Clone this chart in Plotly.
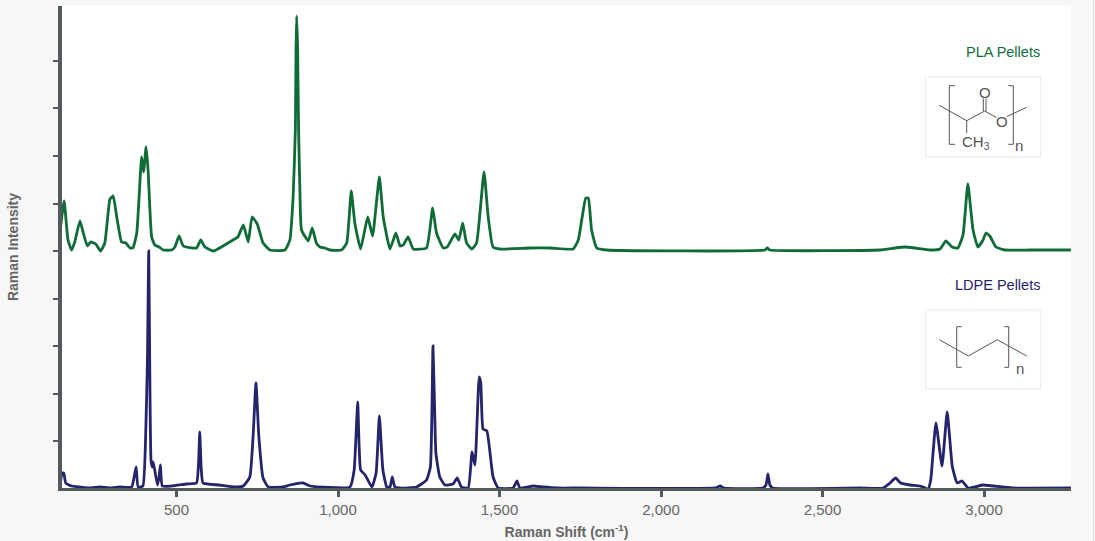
import plotly.graph_objects as go

pla_shift = [139,152,164,175,185,201,209,224,234,250,265,278,294,304,315,330,343,356,365,377,392,398,406,412,423,433,446,459,485,495,508,521,562,575,588,614,675,690,707,722,734,750,768,789,836,851,861,868,870,872,875,878,882,887,908,920,933,944,959,975,1011,1027,1041,1052,1070,1092,1107,1128,1140,1161,1179,1192,1202,1217,1233,1274,1293,1305,1326,1338,1362,1374,1386,1398,1414,1429,1452,1465,1480,1501,1594,1656,1728,1744,1756,1767,1775,1785,1801,1832,2322,2329,2337,2678,2724,2755,2786,2833,2864,2882,2901,2919,2935,2950,2966,2981,2997,3006,3018,3037,3065,3142,3269]
pla_intensity = [257,289,250,240,248,269,260,244,248,246,239,247,291,294,273,248,247,242,242,257,333,318,343,320,253,245,243,240,240,243,254,244,242,250,243,239,250,253,265,248,273,266,247,240,240,250,293,360,440,474,440,360,300,260,249,262,247,243,242,240,240,247,299,267,241,273,254,313,273,241,257,244,245,253,241,242,282,257,242,243,256,250,267,247,241,247,318,273,243,241,242,242,241,250,273,292,292,260,242,240,240,242,240,240,242,243,242,240,241,249,243,242,255,306,260,243,250,257,254,243,240,240,240]

ldpe_shift = [139,146,151,157,175,201,232,263,294,325,361,375,381,396,405,410,414,417,421,425,428,441,446,450,456,484,531,562,568,572,576,582,632,681,707,727,737,746,755,768,784,830,851,892,913,1037,1050,1061,1070,1084,1105,1118,1128,1139,1151,1161,1168,1176,1192,1243,1274,1286,1291,1294,1299,1303,1315,1331,1356,1369,1382,1403,1415,1424,1437,1442,1449,1461,1480,1496,1542,1554,1563,1604,1635,1677,1749,2167,2183,2195,2315,2325,2331,2337,2346,2616,2688,2709,2726,2742,2771,2802,2827,2835,2851,2870,2886,2902,2917,2932,2951,2997,3059,3090,3269]
ldpe_intensity = [3,17,17,7,4,3,2,3,2,3,3,23,3,4,60,130,239,130,30,23,28,5,13,25,4,4,6,7,25,58,25,7,5,3,4,13,53,107,53,12,3,3,5,7,4,3,20,88,20,15,3,17,74,20,3,3,13,3,2,3,10,23,83,144,83,37,13,5,6,12,3,2,38,25,113,107,61,59,13,2,2,9,2,4,3,2,2,2,4,2,2,5,16,5,2,2,2,7,12,7,5,4,1,10,67,24,78,23,7,9,2,5,3,2,2]

x_ticks = [500,1000,1500,2000,2500,3000]
y_ticks = [49,96,144,191,239,286,334,382,429]

W, H = 1095, 541
L, R, T, B = 62, 1071, 6, 488
AXIS = "#54595c"
TXT = "#666666"
GREEN = "#0f6b38"
NAVY = "#25246b"
INK = "#555555"
BOX = "#ececec"

def px(v): return (v - L) / (R - L)
def py(v): return (B - v) / (B - T)

def path(points, color=INK, width=1):
    d = "M " + " L ".join(f"{px(a):.5f},{py(b):.5f}" for a, b in points)
    return dict(type="path", xref="paper", yref="paper", path=d,
                line=dict(color=color, width=width))

def box(x0, y0, x1, y1):
    return dict(type="rect", xref="paper", yref="paper", x0=px(x0), x1=px(x1),
                y0=py(y1), y1=py(y0), line=dict(color=BOX, width=1), fillcolor="white")

def label(text, x, y, size=13, color=INK, xanchor="center"):
    return dict(text=text, x=px(x), y=py(y), xref="paper", yref="paper", showarrow=False,
                xanchor=xanchor, yanchor="middle", font=dict(size=size, color=color),
                bgcolor="rgba(0,0,0,0)", borderpad=0)

shapes = [
    dict(type="rect", xref="paper", yref="paper", x0=px(1093), x1=px(1094.5), y0=py(541), y1=py(0),
         line=dict(width=0), fillcolor="#dddddd", layer="below"),
    dict(type="rect", xref="paper", yref="paper", x0=px(1094.5), x1=px(1095), y0=py(541), y1=py(0),
         line=dict(width=0), fillcolor="white", layer="below"),
    box(925.5, 77, 1040.5, 157),
    path([(939.3,105.3),(966.7,120.7),(984.7,111),(996.5,117.5)]),
    path([(1007,116.5),(1026.7,107.3)]),
    path([(983.3,111),(983.3,98.5)]),
    path([(986,111),(986,98.5)]),
    path([(966.7,120.7),(966.7,133)]),
    path([(955,85.7),(949.3,85.7),(949.3,144.3),(955,144.3)]),
    path([(1008.3,85.7),(1013.3,85.7),(1013.3,144.3),(1008.3,144.3)]),
    box(925.5, 310, 1040.5, 389),
    path([(939.3,339.7),(968.3,356),(997.3,339.7),(1026.7,356)]),
    path([(961.7,326.7),(956.7,326.7),(956.7,367.3),(961.7,367.3)]),
    path([(1004.3,326.7),(1008.7,326.7),(1008.7,367.3),(1004.3,367.3)]),
]

annotations = [
    label("PLA Pellets", 1041, 51.5, size=14.5, color=GREEN, xanchor="right"),
    label("LDPE Pellets", 1041, 285, size=14.5, color=NAVY, xanchor="right"),
    label("O", 984.7, 92, size=15),
    label("O", 1001.7, 121.5, size=15),
    label("CH<sub>3</sub>", 975.5, 142.5, size=15),
    label("n", 1019, 146, size=15),
    label("n", 1020, 368, size=15),
]

fig = go.Figure()
fig.add_trace(go.Scatter(x=pla_shift, y=pla_intensity, mode="lines", name="PLA Pellets",
                         line=dict(color=GREEN, width=2.8, shape="spline", smoothing=0.4)))
fig.add_trace(go.Scatter(x=ldpe_shift, y=ldpe_intensity, mode="lines", name="LDPE Pellets",
                         line=dict(color=NAVY, width=2.8, shape="spline", smoothing=0.4)))

fig.update_layout(
    width=W, height=H, autosize=False,
    margin=dict(l=L, r=W - R, t=T, b=H - B, pad=0),
    paper_bgcolor="#f7f7f7", plot_bgcolor="white",
    showlegend=False,
    font=dict(family="Liberation Sans, Arial, sans-serif", color=TXT, size=15),
    shapes=shapes, annotations=annotations,
    xaxis=dict(
        automargin=False,
        range=[145.5, 3269.3], tickmode="array", tickvals=x_ticks, tickformat=",",
        showgrid=False, zeroline=False, showline=True, linecolor=AXIS, linewidth=3,
        ticks="outside", ticklen=6, tickwidth=3, tickcolor=AXIS,
        tickfont=dict(size=15, color=TXT),
        title=dict(text="<b>Raman Shift (cm<sup>-1</sup>)</b>", font=dict(size=14, color=TXT), standoff=11),
    ),
    yaxis=dict(
        automargin=False,
        range=[2, 484], tickmode="array", tickvals=y_ticks, showticklabels=False,
        showgrid=False, zeroline=False, showline=True, linecolor=AXIS, linewidth=4,
        ticks="outside", ticklen=5, tickwidth=2, tickcolor=AXIS,
        title=dict(text="<b>Raman Intensity</b>", font=dict(size=14, color=TXT), standoff=32),
    ),
)

fig.write_html("out.html", config={"displayModeBar": False},
               post_script="document.body.style.margin='0';document.body.style.background='#f7f7f7';")
